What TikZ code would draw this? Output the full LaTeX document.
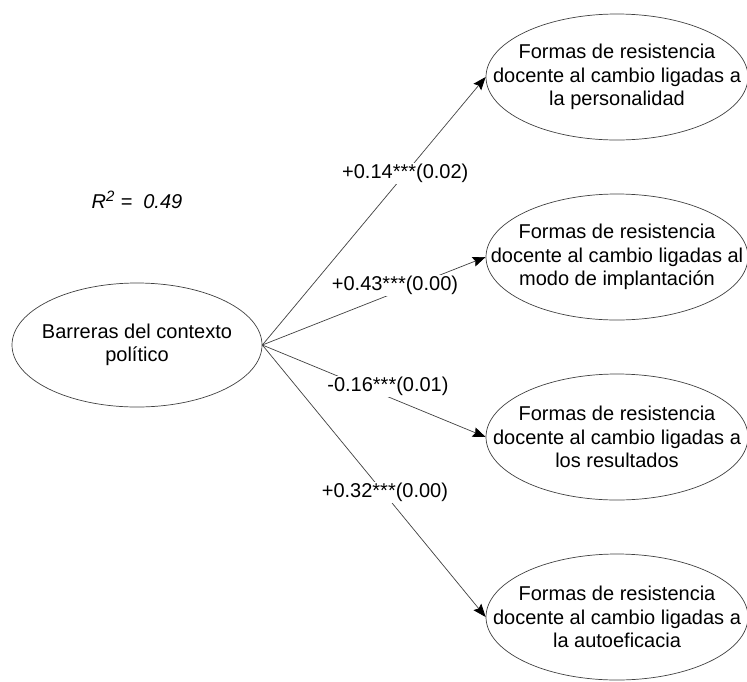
\documentclass[tikz,border=0pt]{standalone}
\usepackage{fontspec}
\setmainfont{Liberation Sans}
\usetikzlibrary{arrows.meta,shapes.geometric}
\tikzset{
  ell/.style={draw=black!75, line width=0.7pt, ellipse, inner sep=0pt},
  txt/.style={align=center, font=\fontsize{20}{23.5}\selectfont, inner sep=0pt},
  conn/.style={draw=black!75, line width=0.7pt, -{Stealth[length=13pt,width=10pt,inset=2pt,color=black]}},
  lab/.style={fill=white, inner sep=1pt, font=\fontsize{20}{23.5}\selectfont}
}
\begin{document}
\begin{tikzpicture}[x=1pt,y=-1pt]
\useasboundingbox (0,0) rectangle (747,681);
\node[ell, minimum width=250pt, minimum height=124pt] (L) at (137,345) {};
\node[txt] (Lt) at (L) {Barreras del contexto\\político};
\node[ell, minimum width=262pt, minimum height=126pt] (e1) at (617,77) {};
\node[ell, minimum width=262pt, minimum height=126pt] (e2) at (617,257) {};
\node[ell, minimum width=262pt, minimum height=126pt] (e3) at (617,437) {};
\node[ell, minimum width=262pt, minimum height=126pt] (e4) at (617,617) {};
\node[txt] (t1) at (e1) {Formas de resistencia\\docente al cambio ligadas a\\la personalidad};
\node[txt] (t2) at (e2) {Formas de resistencia\\docente al cambio ligadas al\\modo de implantación};
\node[txt] (t3) at (e3) {Formas de resistencia\\docente al cambio ligadas a\\los resultados};
\node[txt] (t4) at (e4) {Formas de resistencia\\docente al cambio ligadas a\\la autoeficacia};
\node[txt, font=\fontsize{20}{23.5}\selectfont\itshape] (r2) at (137,200) {R\textsuperscript{\fontsize{15}{15}\selectfont 2} =\ \ 0.49};
\draw[conn] (L.east) -- node[lab, pos=0.64] {+0.14***(0.02)} (e1.west);
\draw[conn] (L.east) -- node[lab, pos=0.594, yshift=7pt] {+0.43***(0.00)} (e2.west);
\draw[conn] (L.east) -- node[lab, pos=0.5625, yshift=10pt] {-0.16***(0.01)} (e3.west);
\draw[conn] (L.east) -- node[lab, pos=0.549, yshift=2pt] {+0.32***(0.00)} (e4.west);
\end{tikzpicture}
\end{document}
